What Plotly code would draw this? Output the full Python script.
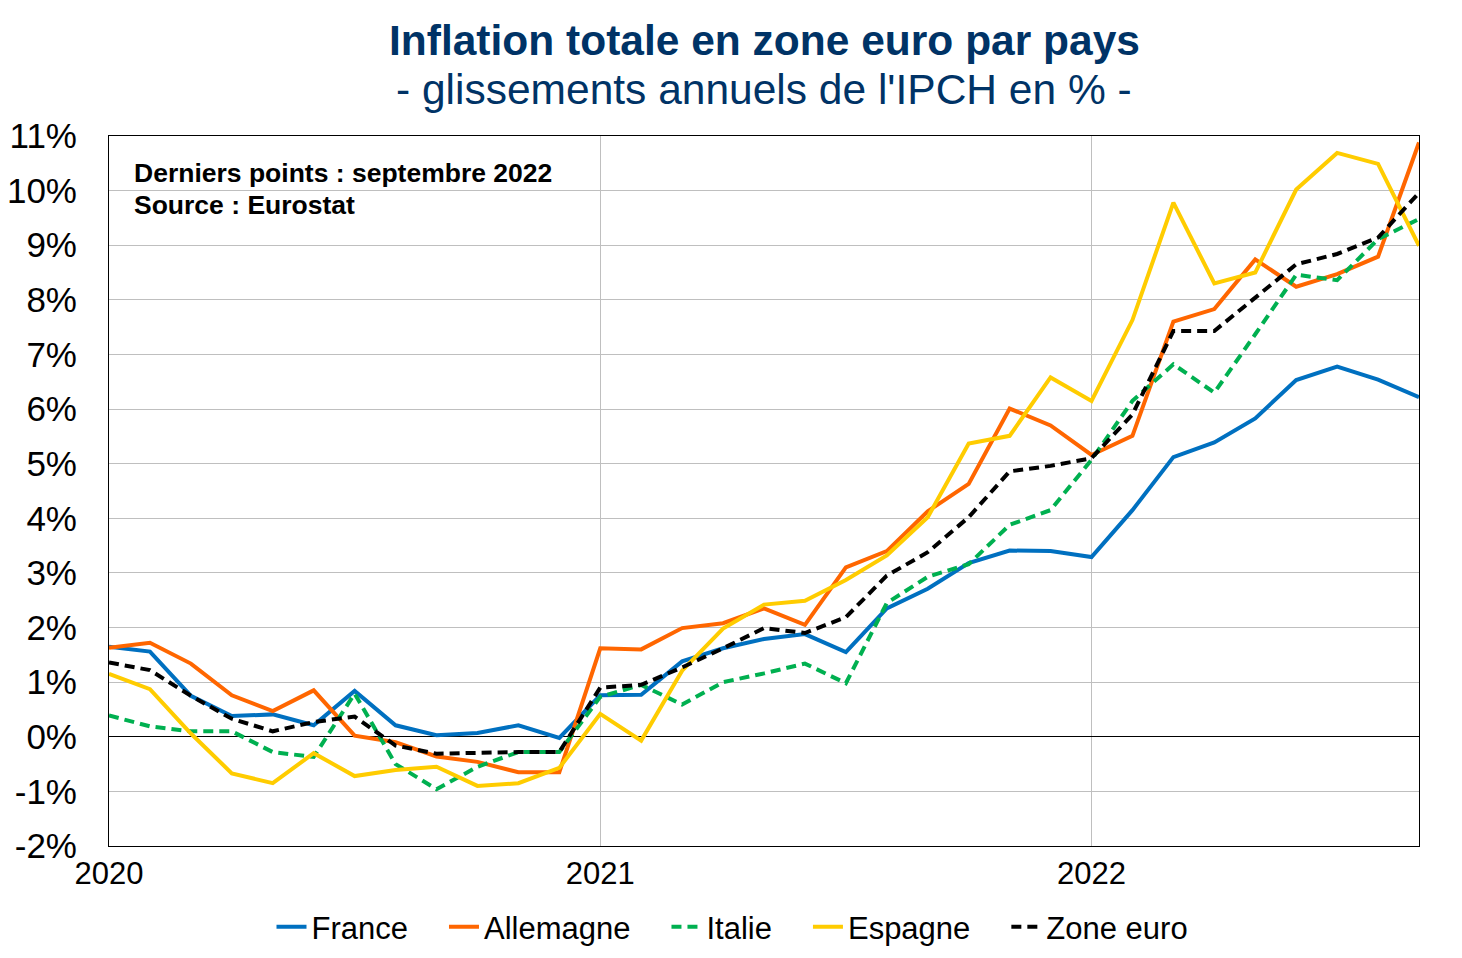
import plotly.graph_objects as go

months = [f"{y}-{m:02d}" for y in (2020, 2021, 2022) for m in range(1, 13)][:33]

france = [1.65, 1.56, 0.75, 0.38, 0.41, 0.21, 0.84, 0.21, 0.03, 0.07, 0.21, -0.02,
          0.76, 0.77, 1.38, 1.62, 1.79, 1.88, 1.55, 2.35, 2.71, 3.18, 3.41, 3.40,
          3.29, 4.15, 5.12, 5.39, 5.83, 6.53, 6.78, 6.54, 6.22]
allemagne = [1.63, 1.72, 1.34, 0.76, 0.47, 0.85, 0.02, -0.10, -0.36, -0.46, -0.65, -0.65,
             1.62, 1.60, 1.99, 2.08, 2.35, 2.05, 3.10, 3.40, 4.13, 4.63, 6.01, 5.70,
             5.16, 5.51, 7.60, 7.83, 8.74, 8.24, 8.47, 8.79, 10.88]
italie = [0.39, 0.19, 0.10, 0.10, -0.28, -0.37, 0.79, -0.50, -0.96, -0.55, -0.28, -0.28,
          0.73, 0.95, 0.59, 1.00, 1.16, 1.34, 0.98, 2.45, 2.93, 3.16, 3.88, 4.15,
          5.07, 6.15, 6.82, 6.30, 7.37, 8.46, 8.36, 9.11, 9.48]
espagne = [1.15, 0.87, 0.06, -0.67, -0.85, -0.30, -0.72, -0.61, -0.55, -0.90, -0.85, -0.57,
           0.42, -0.07, 1.21, 1.98, 2.42, 2.49, 2.87, 3.32, 4.02, 5.37, 5.51, 6.58,
           6.15, 7.63, 9.78, 8.30, 8.50, 10.02, 10.69, 10.49, 8.99]
zone_euro = [1.36, 1.22, 0.75, 0.33, 0.10, 0.27, 0.37, -0.16, -0.31, -0.29, -0.28, -0.28,
             0.90, 0.95, 1.27, 1.62, 1.99, 1.90, 2.19, 2.95, 3.38, 4.02, 4.86, 4.96,
             5.10, 5.90, 7.43, 7.43, 8.04, 8.65, 8.84, 9.14, 9.96]

series_names = ["France", "Allemagne", "Italie", "Espagne", "Zone euro"]
series_values = [france, allemagne, italie, espagne, zone_euro]
series_colors = ["#0070C0", "#FF6600", "#00B050", "#FFCC00", "#000000"]
series_dash = ["solid", "solid", "10px,6px", "solid", "10px,6px"]

x_tickvals = ["2020-01", "2021-01", "2022-01"]
x_ticktext = ["2020", "2021", "2022"]
y_tickvals = list(range(-2, 12))
y_ticktext = [f"{v}%" for v in y_tickvals]

title_line1 = "Inflation totale en zone euro par pays"
title_line2 = "- glissements annuels de l'IPCH en % -"
note_lines = ["Derniers points : septembre 2022", "Source : Eurostat"]

fig = go.Figure()
for name, vals, col, dash in zip(series_names, series_values, series_colors, series_dash):
    fig.add_trace(go.Scatter(
        x=months, y=vals, name=name + "\u2003", mode="lines",
        line=dict(color=col, width=4, dash=dash),
    ))

navy = "#003366"
font_family = "Liberation Sans, Arial, sans-serif"

# page offset of the figure inside the browser page (body margin)
OFF = 7
W, H = 1462 - OFF, 958 - OFF
L, T = 108 - OFF, 135 - OFF
R = W - (1418 - OFF)
B = H - (845 - OFF)

# plot area in screen pixels: top 135, bottom 845, left 108, right 1418
def py(ypix):
    return (845 - ypix) / 710

def px(xpix):
    return (xpix - 108) / 1310

fig.update_layout(
    width=W, height=H,
    paper_bgcolor="white", plot_bgcolor="white",
    margin=dict(l=L, r=R, t=T, b=B, autoexpand=False),
    font=dict(family=font_family, color="black"),
    showlegend=True,
    legend=dict(
        orientation="h", xref="container", yref="container",
        x=(747 - OFF) / W, xanchor="center", y=1 - (926 - OFF) / H, yanchor="middle",
        font=dict(size=31, color="black"), itemwidth=30,
        tracegroupgap=0, bgcolor="rgba(0,0,0,0)",
    ),
    xaxis=dict(
        type="category", range=[0, len(months) - 1], automargin=False,
        tickmode="array", tickvals=x_tickvals, ticktext=x_ticktext,
        tickfont=dict(size=31, color="black"),
        showgrid=True, gridcolor="#BFBFBF", gridwidth=1,
        showline=True, linecolor="black", linewidth=1, mirror=True,
        ticks="",
    ),
    yaxis=dict(
        range=[-2, 11], automargin=False,
        tickmode="array", tickvals=y_tickvals, ticktext=y_ticktext,
        tickfont=dict(size=35, color="black"),
        showgrid=True, gridcolor="#BFBFBF", gridwidth=1,
        zeroline=True, zerolinecolor="black", zerolinewidth=1,
        showline=True, linecolor="black", linewidth=1, mirror=True,
        ticks="outside", ticklen=24, tickcolor="rgba(0,0,0,0)",
    ),
    annotations=[
        dict(text=f"<b>{title_line1}</b>", xref="paper", yref="paper",
             x=0.5, y=py(40), xanchor="center", yanchor="middle",
             showarrow=False, font=dict(size=42.5, color=navy)),
        dict(text=title_line2, xref="paper", yref="paper",
             x=0.5, y=py(88), xanchor="center", yanchor="middle",
             showarrow=False, font=dict(size=42.5, color=navy)),
        dict(text=f"<b>{note_lines[0]}</b>", xref="paper", yref="paper",
             x=px(131), y=py(172), xanchor="left", yanchor="middle",
             showarrow=False, font=dict(size=26.5, color="black")),
        dict(text=f"<b>{note_lines[1]}</b>", xref="paper", yref="paper",
             x=px(131), y=py(204), xanchor="left", yanchor="middle",
             showarrow=False, font=dict(size=26.5, color="black")),
    ],
)

fig.write_html("out.html")
